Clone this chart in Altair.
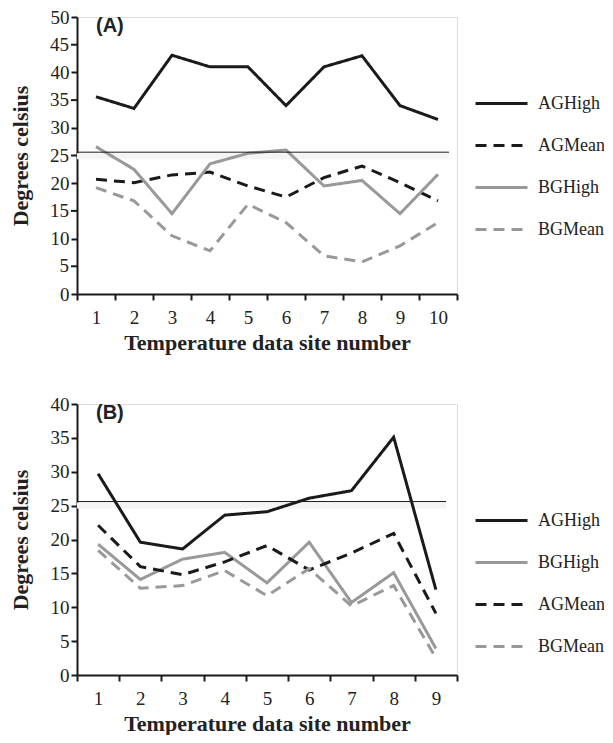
import altair as alt
import pandas as pd

# ---------------- data ----------------
sites_a = [1, 2, 3, 4, 5, 6, 7, 8, 9, 10]
a_aghigh = [35.6, 33.5, 43.1, 41.0, 41.0, 34.0, 41.0, 43.0, 34.0, 31.5]
a_agmean = [20.7, 20.1, 21.5, 22.0, 19.5, 17.5, 21.0, 23.1, 20.1, 16.8]
a_bghigh = [26.6, 22.5, 14.5, 23.5, 25.4, 26.0, 19.5, 20.5, 14.5, 21.6]
a_bgmean = [19.2, 16.8, 10.5, 7.8, 16.2, 12.9, 6.9, 5.8, 8.7, 12.9]

sites_b = [1, 2, 3, 4, 5, 6, 7, 8, 9]
b_aghigh = [29.7, 19.6, 18.6, 23.6, 24.1, 26.1, 27.2, 35.1, 12.6]
b_agmean = [22.1, 16.0, 14.8, 16.7, 19.1, 15.5, 18.0, 20.9, 9.1]
b_bghigh = [19.3, 14.1, 17.1, 18.1, 13.6, 19.6, 10.7, 15.1, 3.9]
b_bgmean = [18.4, 12.8, 13.2, 15.4, 11.7, 15.7, 10.2, 13.2, 2.5]

threshold = [25.6]

# in-between y tick values of panel A (shown in the reference every 5 degrees)
a_minor_ticks = [5, 15, 25, 35, 45]

order_a = ["AGHigh", "AGMean", "BGHigh", "BGMean"]
order_b = ["AGHigh", "BGHigh", "AGMean", "BGMean"]

BLACK = "#1a1a1a"
GRAY = "#999999"
style_color = {"AGHigh": BLACK, "AGMean": BLACK, "BGHigh": GRAY, "BGMean": GRAY}
style_dash = {"AGHigh": [1, 0], "AGMean": [11, 7], "BGHigh": [1, 0], "BGMean": [11, 7]}

SERIF = "Liberation Serif"
SANS = "Liberation Sans"


def make_df(sites, series):
    rows = []
    for name, vals in series.items():
        for s, v in zip(sites, vals):
            rows.append({"site": s, "series": name, "value": v})
    return pd.DataFrame(rows)


def panel(sites, series, order, ymax, height, label, legend_y, rule_len, minor):
    df = make_df(sites, series)
    legend = alt.Legend(
        orient="none", legendX=397, legendY=legend_y, title=None,
        symbolType="stroke", symbolSize=2704, symbolStrokeWidth=3,
        labelFont=SERIF, labelFontSize=18, labelColor="#222222",
        rowPadding=5, labelOffset=9,
    )
    x = alt.X(
        "site:O", bandPosition=0.5,
        scale=alt.Scale(type="band", paddingInner=0, paddingOuter=0),
        axis=alt.Axis(
            title="Temperature data site number", tickBand="extent", labelAngle=0,
            labelFont=SERIF, labelFontSize=19, labelColor="#222222", labelPadding=8,
            titleFont=SERIF, titleFontSize=22, titleFontWeight="bold",
            titleColor="#222222", titlePadding=5,
            domainColor=BLACK, domainWidth=2, tickColor=BLACK, tickWidth=2, tickSize=6,
        ),
    )
    y = alt.Y(
        "value:Q",
        scale=alt.Scale(domain=[0, ymax], nice=False, zero=True),
        axis=alt.Axis(
            title="Degrees celsius", values=list(range(0, ymax + 1, 5)), grid=False,
            labelOverlap=False, tickCount=10,
            labelFont=SERIF, labelFontSize=19, labelColor="#222222", labelPadding=2,
            titleFont=SERIF, titleFontSize=22, titleFontWeight="bold",
            titleColor="#222222", titlePadding=18,
            domainColor=BLACK, domainWidth=2, tickColor=BLACK, tickWidth=2, tickSize=6,
        ),
    )
    lines = alt.Chart(df).mark_line(strokeWidth=3).encode(
        x=x,
        y=y,
        color=alt.Color("series:N", sort=order,
                        scale=alt.Scale(domain=order, range=[style_color[o] for o in order]),
                        legend=legend),
        strokeDash=alt.StrokeDash("series:N", sort=order,
                                  scale=alt.Scale(domain=order, range=[style_dash[o] for o in order]),
                                  legend=legend),
    )
    tdf = pd.DataFrame({"value": threshold})
    shadow = alt.Chart(tdf).mark_rule(color="#f4f4f4", strokeWidth=6, yOffset=4).encode(
        y=y, x=alt.value(0), x2=alt.value(rule_len)
    )
    rule = alt.Chart(tdf).mark_rule(color=BLACK, strokeWidth=1).encode(
        y=y, x=alt.value(0), x2=alt.value(rule_len)
    )
    txt = alt.Chart(pd.DataFrame({"label": [label]})).mark_text(
        font=SANS, fontSize=20, fontWeight="bold", align="left", baseline="middle",
        color="#222222",
    ).encode(text="label:N", x=alt.value(19), y=alt.value(9))
    layers = [shadow, lines, rule, txt]
    if minor:
        mdf = pd.DataFrame({"value": minor, "lab": [str(v) for v in minor]})
        mticks = alt.Chart(mdf).mark_rule(color=BLACK, strokeWidth=2).encode(
            y=y, x=alt.value(-6), x2=alt.value(0)
        )
        mlabels = alt.Chart(mdf).mark_text(
            font=SERIF, fontSize=19, color="#222222", align="right", baseline="middle", dx=-8
        ).encode(y=y, x=alt.value(0), text="lab:N")
        layers += [mticks, mlabels]
    return alt.layer(*layers).properties(width=380, height=height)


pa = panel(sites_a, {"AGHigh": a_aghigh, "AGMean": a_agmean, "BGHigh": a_bghigh, "BGMean": a_bgmean},
           order_a, 50, 277, "(A)", 59, 372, a_minor_ticks)
pb = panel(sites_b, {"AGHigh": b_aghigh, "BGHigh": b_bghigh, "AGMean": b_agmean, "BGMean": b_bgmean},
           order_b, 40, 271, "(B)", 89, 369, [])

chart = alt.vconcat(pa, pb, spacing=40).resolve_scale(
    color="independent", strokeDash="independent", y="independent", x="independent"
).properties(
    padding={"left": 0, "top": -1, "right": -2, "bottom": 0}
).configure_view(stroke=None).configure_axisY(
    tickCount=10, labelOverlap=False
).configure(background="white")

chart.save("out.html", embed_options={"renderer": "svg", "actions": False})
